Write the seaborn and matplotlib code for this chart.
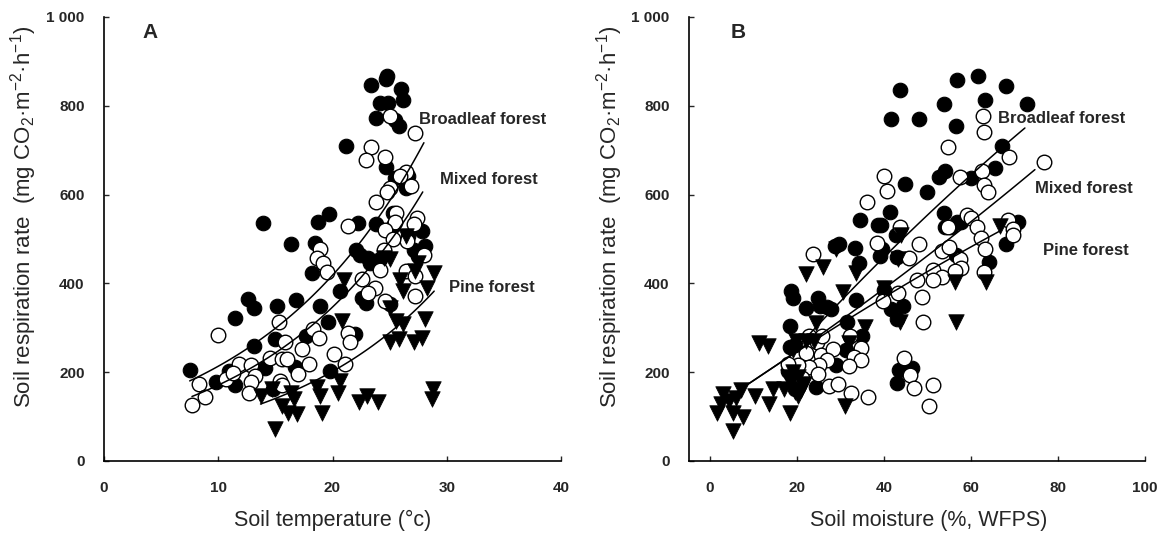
import numpy as np
import pandas as pd
import matplotlib
matplotlib.use("Agg")
import matplotlib.pyplot as plt
import seaborn as sns

sns.set_style("ticks")
plt.rcParams['font.family'] = ['Liberation Sans', 'DejaVu Sans']
plt.rcParams['mathtext.fontset'] = 'custom'
plt.rcParams['mathtext.rm'] = 'Liberation Sans'

# ---------------- Panel A: soil temperature ----------------
a_broad_x = [13.9, 16.4, 12.6, 13.1, 15.1, 16.8, 11.5, 15.0, 13.1, 7.5, 9.8, 10.9, 11.5, 14.1, 14.8,
             23.4, 24.8, 24.7, 26.0, 26.2, 24.2, 24.9, 23.8, 25.5, 25.8, 21.2, 24.7, 25.5, 26.4, 26.6,
             19.7, 18.7, 22.2, 18.5, 23.8, 25.3, 25.3, 26.6, 27.8, 22.1, 23.1, 24.2, 27.1, 28.1,
             18.2, 18.9, 20.7, 22.6, 22.9, 25.0, 19.6, 17.7, 22.0, 19.8, 23.3, 22.4, 27.5, 16.7]
a_broad_y = [535, 488, 364, 345, 348, 362, 321, 274, 258, 205, 177, 203, 171, 210, 162,
             846, 867, 860, 838, 813, 806, 806, 772, 769, 754, 709, 662, 638, 615, 641,
             557, 538, 536, 490, 533, 559, 529, 506, 517, 476, 458, 454, 476, 484,
             424, 349, 383, 368, 355, 353, 312, 282, 285, 203, 446, 465, 461, 211]

a_mixed_x = [10.0, 15.3, 7.7, 8.3, 8.8, 11.8, 12.9, 10.7, 13.2, 12.9, 12.7, 14.5, 15.6, 15.8, 15.4, 15.6, 11.3,
             25.0, 27.2, 23.4, 22.9, 24.6, 26.4, 25.9, 26.9, 25.0, 24.8, 23.8, 21.4, 25.6, 25.5, 27.4, 27.1,
             24.6, 26.5, 18.9, 18.6, 19.2, 28.0, 25.3, 24.5,
             19.5, 22.6, 23.7, 23.1, 24.6, 27.2, 26.4, 27.2, 24.2, 18.3, 18.8, 21.4, 21.5, 17.3, 16.0,
             17.9, 20.1, 21.1, 17.0]
a_mixed_y = [284, 313, 126, 173, 145, 218, 216, 184, 192, 177, 154, 233, 229, 267, 180, 171, 199,
             776, 739, 707, 677, 685, 652, 641, 620, 615, 605, 583, 530, 559, 538, 548, 533,
             521, 495, 478, 458, 445, 463, 499, 476,
             425, 409, 390, 379, 360, 371, 428, 416, 431, 297, 278, 289, 267, 252, 229,
             218, 240, 218, 196]

a_pine_x = [13.7, 14.7, 15.6, 16.1, 16.9, 15.0, 16.4,
            26.4, 24.5, 27.5,
            21.0, 25.0, 25.9, 27.2, 28.9, 28.3, 26.2, 25.0, 20.8, 25.6, 26.2, 28.1, 25.0, 25.8, 27.1,
            27.8, 20.7, 18.6, 20.5, 18.9, 22.3, 23.0, 24.0, 28.8, 28.7, 19.1, 16.6]
a_pine_y = [147, 162, 124, 109, 106, 72, 154,
            506, 458, 446,
            407, 454, 407, 428, 424, 390, 383, 345, 315, 315, 308, 319, 267, 274, 267,
            276, 180, 166, 154, 147, 132, 147, 132, 162, 139, 109, 139]

# exponential fits y = a*exp(b*x): (a, b, x_start, x_end)
a_fit_broad = [108.9, 0.0673, 7.5, 28.0]
a_fit_mixed = [84.3, 0.0707, 7.7, 27.9]
a_fit_pine = [47.9, 0.0719, 13.7, 28.9]

# ---------------- Panel B: soil moisture ----------------
b_broad_x = [43.6, 56.8, 61.6, 68.1, 53.8, 63.2, 72.8, 41.6, 48.1, 56.5, 67.1, 65.6, 60.0, 52.6, 54.1,
             44.9, 50.0, 41.5, 53.7, 34.6, 38.7, 39.3, 42.8, 29.6, 28.7, 33.4, 39.6, 39.2, 42.9, 34.3,
             54.0, 55.3, 57.6, 56.9, 70.9, 68.1, 64.1, 56.5, 18.7, 19.1, 22.2, 24.9, 25.4, 26.9, 27.8,
             33.5, 40.1, 41.7, 44.4, 43.0, 18.3, 31.4, 31.3, 18.4, 19.5, 29.0, 34.9, 43.4, 46.5, 43.1,
             24.4, 19.5, 18.6, 17.9]
b_broad_y = [835, 859, 867, 845, 805, 814, 804, 770, 770, 755, 709, 661, 638, 640, 653,
             625, 605, 561, 558, 542, 531, 531, 509, 488, 485, 479, 477, 462, 459, 446,
             527, 527, 538, 538, 538, 488, 449, 463, 383, 366, 344, 366, 350, 347, 343,
             362, 385, 343, 349, 320, 304, 312, 251, 256, 262, 216, 281, 205, 209, 176,
             166, 163, 193, 202]

b_mixed_x = [62.7, 63.0, 54.8, 68.7, 76.9, 40.1, 40.7, 57.4, 62.6, 63.1, 64.0, 36.0, 59.2, 60.1, 61.5,
             62.3, 63.3, 63.0, 68.5, 69.7, 69.7, 43.8, 54.7, 23.6, 38.3, 48.1, 45.7, 53.3, 54.9, 57.4,
             57.8, 56.3, 51.2, 47.5, 53.3, 51.2, 48.7, 43.2, 39.9, 49.0, 22.8, 24.7, 25.8, 22.0, 25.5,
             28.4, 32.1, 34.7, 33.1, 34.7, 26.9, 31.9, 25.1, 22.8, 20.3, 17.9, 24.9, 21.2, 27.3, 29.4,
             32.5, 36.4, 44.6, 46.0, 46.9, 51.3, 50.4]
b_mixed_y = [776, 742, 707, 684, 674, 642, 607, 640, 653, 622, 606, 583, 555, 548, 527,
             502, 477, 425, 542, 523, 508, 528, 527, 467, 492, 488, 458, 473, 483, 454,
             435, 428, 431, 408, 414, 408, 370, 379, 360, 312, 281, 268, 281, 243, 239,
             253, 281, 255, 235, 228, 228, 215, 216, 212, 216, 218, 197, 186, 168, 174,
             153, 145, 233, 193, 165, 172, 124]

b_pine_x = [1.6, 2.5, 3.0, 4.3, 5.3, 5.3, 5.9, 7.7, 7.2, 10.3, 11.3, 13.3, 13.5, 14.6, 18.3,
            17.0, 19.5, 18.6, 20.3, 20.3, 21.6, 19.9, 19.1, 22.0, 22.1, 26.1, 24.4, 29.0, 30.6, 33.5,
            31.0, 35.6, 31.9, 40.1, 43.2, 43.8, 56.3, 56.5, 63.5, 66.6, 44.0, 24.0, 18.0, 19.0, 21.0]
b_pine_y = [109, 128, 151, 136, 67, 107, 143, 100, 159, 147, 266, 258, 128, 163, 109,
            163, 155, 182, 147, 189, 174, 270, 251, 270, 422, 437, 310, 477, 381, 423,
            123, 301, 266, 389, 456, 312, 404, 314, 404, 529, 508, 270, 190, 200, 160]

# quadratic fits y = c0 + c1*x + c2*x^2: (c0, c1, c2, x_start, x_end)
b_fit_broad = [33.1, 11.56, -0.0229, 18.0, 72.4]
b_fit_mixed = [117.0, 6.27, 0.0127, 7.7, 74.7]
b_fit_pine = [114.3, 6.81, -0.0113, 7.7, 67.0]

y_ticks = [0, 200, 400, 600, 800, 1000]
y_tick_labels = ['0', '200', '400', '600', '800', '1 000']
a_x_ticks = [0, 10, 20, 30, 40]
b_x_ticks = [0, 20, 40, 60, 80, 100]
labels = ['Broadleaf forest', 'Mixed forest', 'Pine forest']

fig = plt.figure(figsize=(11.61, 5.34), dpi=100)
axA = fig.add_axes([104/1161, 73/534, 457/1161, 444/534])
axB = fig.add_axes([689/1161, 73/534, 456/1161, 444/534])

ms = 110
def draw_points(ax, bx, by, mx, my, px, py):
    sns.scatterplot(x=bx, y=by, ax=ax, marker='o', s=ms, color='black',
                    edgecolor='black', linewidth=0.8, zorder=3)
    sns.scatterplot(x=mx, y=my, ax=ax, marker='o', s=ms, facecolor='white',
                    edgecolor='black', linewidth=1.0, zorder=4)
    sns.scatterplot(x=px, y=py, ax=ax, marker='v', s=ms + 15, color='black',
                    edgecolor='black', linewidth=0.5, zorder=5)

def draw_exp(ax, p):
    xx = np.linspace(p[2], p[3], 100)
    sns.lineplot(x=xx, y=p[0] * np.exp(p[1] * xx), ax=ax, color='black', lw=1.1, zorder=6)

def draw_quad(ax, p):
    xx = np.linspace(p[3], p[4], 100)
    sns.lineplot(x=xx, y=p[0] + p[1] * xx + p[2] * xx ** 2, ax=ax, color='black', lw=1.1, zorder=6)

draw_points(axA, a_broad_x, a_broad_y, a_mixed_x, a_mixed_y, a_pine_x, a_pine_y)
for p in (a_fit_broad, a_fit_mixed, a_fit_pine):
    draw_exp(axA, p)
draw_points(axB, b_broad_x, b_broad_y, b_mixed_x, b_mixed_y, b_pine_x, b_pine_y)
for p in (b_fit_broad, b_fit_mixed, b_fit_pine):
    draw_quad(axB, p)

ylab = 'Soil respiration rate  (mg CO$_\\mathregular{2}$·m$^\\mathregular{-2}$·h$^\\mathregular{-1}$)'
for ax, xt, xl, xlab, xlx in ((axA, a_x_ticks, (0, 40), 'Soil temperature (°c)', 0.50),
                              (axB, b_x_ticks, (-4.8, 100), 'Soil moisture (%, WFPS)', 0.526)):
    ax.set_xlim(*xl)
    ax.set_ylim(0, 1000)
    ax.set_xticks(xt)
    ax.set_xticklabels([str(v) for v in xt])
    ax.set_yticks(y_ticks)
    ax.set_yticklabels(y_tick_labels)
    ax.tick_params(direction='in', length=3.5, width=1.0, labelsize=11)
    ax.tick_params(axis='x', pad=14.5)
    ax.tick_params(axis='y', pad=14)
    for lab in ax.get_xticklabels() + ax.get_yticklabels():
        lab.set_fontweight('bold')
    for s in ('top', 'right'):
        ax.spines[s].set_visible(False)
    for s in ('left', 'bottom'):
        ax.spines[s].set_linewidth(1.2)
        ax.spines[s].set_color('black')
    ax.set_xlabel(xlab, fontsize=15.5, va='center')
    ax.xaxis.set_label_coords(xlx, -0.133)
    ax.set_ylabel(ylab, fontsize=16, va='center')
    ax.yaxis.set_label_coords(-0.175, 0.55)
    ax.set_facecolor('white')

axA.text(4.0, 966, 'A', fontsize=15, fontweight='bold', va='center', ha='center', zorder=10)
axB.text(6.5, 966, 'B', fontsize=15, fontweight='bold', va='center', ha='center', zorder=10)

a_label_pos = [(27.6, 769), (29.4, 634), (30.2, 391)]
b_label_pos = [(66.2, 771), (74.7, 613), (76.6, 474)]
for (x, y), t in zip(a_label_pos, labels):
    axA.text(x, y, t, fontsize=12, fontweight='bold', va='center', ha='left', zorder=10)
for (x, y), t in zip(b_label_pos, labels):
    axB.text(x, y, t, fontsize=12, fontweight='bold', va='center', ha='left', zorder=10)

fig.savefig('out.png', dpi=100, facecolor='white')
